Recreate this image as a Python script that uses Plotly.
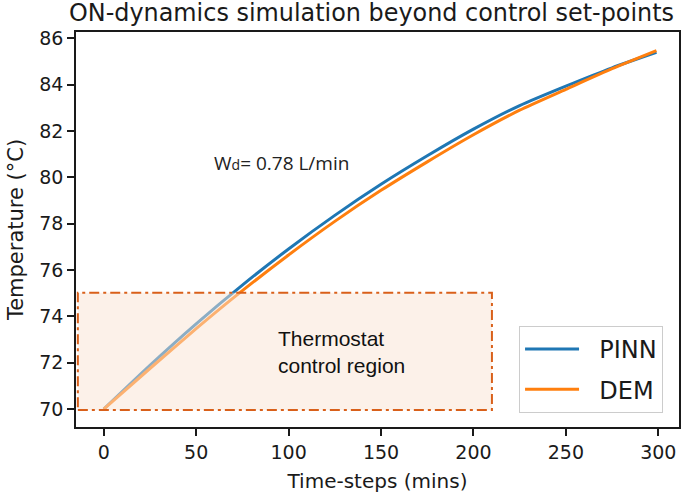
import plotly.graph_objects as go

# ---- data ----
time_steps = [0, 25, 50, 75, 100, 125, 150, 175, 200, 225, 250, 275, 299]
pinn_temp = [70.00, 71.89, 73.68, 75.35, 76.91, 78.36, 79.70, 80.93, 82.08, 83.10, 83.94, 84.73, 85.40]
dem_temp = [70.00, 71.75, 73.47, 75.11, 76.65, 78.10, 79.44, 80.67, 81.84, 82.90, 83.80, 84.69, 85.47]
series_names = ["PINN", "DEM"]
x_ticks = [0, 50, 100, 150, 200, 250, 300]
y_ticks = [70, 72, 74, 76, 78, 80, 82, 84, 86]
region_x = [-14, 210]
region_y = [69.96, 75.02]

W, H = 685, 494
L, R, T, B = 76, 4, 32, 67
FONT = "DejaVu Sans"
INK = "#1a1a1a"
PAD = "\u00a0\u00a0"

fig = go.Figure()
fig.add_trace(go.Scatter(x=time_steps, y=pinn_temp, name=PAD + series_names[0], mode="lines",
                         line=dict(color="#1f77b4", width=3, shape="spline", smoothing=0.6),
                         legendgroup="a"))
fig.add_trace(go.Scatter(x=time_steps, y=dem_temp, name=PAD + series_names[1], mode="lines",
                         line=dict(color="#ff7f0e", width=3, shape="spline", smoothing=0.6),
                         legendgroup="b"))

fig.add_shape(type="rect", xref="x", yref="y",
              x0=region_x[0], x1=region_x[1], y0=region_y[0], y1=region_y[1],
              fillcolor="rgba(249,227,212,0.5)",
              line=dict(color="#d9601a", width=2, dash="10px,4px,3px,4px"),
              layer="above")

fig.add_annotation(x=93.2, y=72.48, xref="x", yref="y", xanchor="left", yanchor="middle",
                   text="Thermostat<br>control region", showarrow=False, align="left",
                   font=dict(family="Liberation Sans", size=21, color="#111111"))
fig.add_annotation(x=(282 - L) / (W - L - R), y=(H - B - 163) / (H - T - B),
                   xref="paper", yref="paper", xanchor="center", yanchor="middle", showarrow=False,
                   text="W<span style='font-size:14px'>d</span>= 0.78 L/min",
                   font=dict(family="Open Sans", size=19, color="#222222"))

fig.update_layout(
    width=W, height=H,
    margin=dict(l=L, r=R, t=T, b=B),
    paper_bgcolor="white", plot_bgcolor="white",
    font=dict(family=FONT, color=INK),
    title=dict(text="ON-dynamics simulation beyond control set-points",
               x=371.5 / W, xref="container", xanchor="center",
               y=1 - 13 / H, yref="container", yanchor="middle",
               font=dict(family=FONT, size=23.9, color=INK)),
    showlegend=True,
    legend=dict(x=(665 - L) / (W - L - R), y=(H - B - 413) / (H - T - B),
                xanchor="right", yanchor="bottom",
                bordercolor="#cccccc", borderwidth=1, bgcolor="rgba(255,255,255,0.8)",
                font=dict(family=FONT, size=24, color=INK), itemwidth=54,
                traceorder="grouped", tracegroupgap=6),
    xaxis=dict(range=[-15, 311.2], tickvals=x_ticks, ticks="outside", ticklen=7, tickwidth=1.6,
               tickcolor=INK, showline=True, linecolor=INK, linewidth=1.6, mirror=True,
               showgrid=False, zeroline=False, tickfont=dict(size=19, color=INK),
               title=dict(text="Time-steps (mins)", font=dict(size=20, color=INK), standoff=12)),
    yaxis=dict(range=[69.225, 86.275], tickvals=y_ticks, ticks="outside", ticklen=7, tickwidth=1.6,
               tickcolor=INK, showline=True, linecolor=INK, linewidth=1.6, mirror=True,
               showgrid=False, zeroline=False, tickfont=dict(size=19, color=INK),
               title=dict(text="Temperature (°C)", font=dict(size=21, color=INK), standoff=10)),
)

fig.write_html("out.html", config={"displayModeBar": False},
               post_script="document.body.style.margin='0';document.body.style.overflow='hidden';")
